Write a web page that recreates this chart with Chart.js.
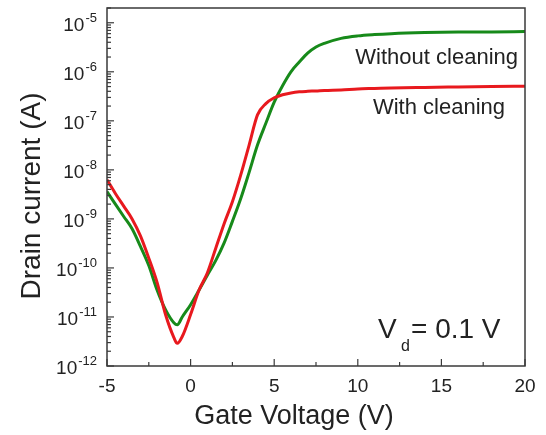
<!DOCTYPE html>
<html>
<head>
<meta charset="utf-8">
<script src="https://cdn.jsdelivr.net/npm/chart.js@4"></script>
<style>
  body { margin: 0; background: #fff; }
  canvas { display: block; }
</style>
</head>
<body>
<canvas id="grafico" width="546" height="435"></canvas>
<script>
// gate voltage (V)
const gateV = [-5, -4.5, -4, -3.5, -3, -2.5, -2, -1.5, -1, -0.8, -0.5, 0, 0.5, 1, 1.5, 2, 2.5, 3, 3.5, 4,
  4.5, 5, 5.5, 6, 6.5, 7, 7.5, 8, 9, 10, 11, 12, 14, 16, 18, 20];

// drain current (A)
const withCleaning = [6.3e-9, 3.3e-9, 1.82e-9, 1.0e-9, 4.5e-10, 1.58e-10, 5.0e-11, 1.12e-11, 3.8e-12, 2.9e-12,
  4.0e-12, 1.12e-11, 3.5e-11, 7.9e-11, 2.5e-10, 7.9e-10, 2.24e-9, 7.9e-9, 3.2e-8, 1.32e-7,
  2.24e-7, 2.95e-7, 3.4e-7, 3.7e-7, 3.9e-7, 4.0e-7, 4.07e-7, 4.17e-7, 4.27e-7, 4.47e-7,
  4.57e-7, 4.68e-7, 4.8e-7, 4.9e-7, 5.0e-7, 5.1e-7];

const withoutCleaning = [3.6e-9, 2.0e-9, 1.12e-9, 6.3e-10, 2.75e-10, 1.12e-10, 3.5e-11, 1.41e-11, 7.6e-12, 6.9e-12,
  1.0e-11, 1.78e-11, 3.5e-11, 7.1e-11, 1.41e-10, 3.2e-10, 8.9e-10, 2.6e-9, 8.9e-9, 3.2e-8,
  8.9e-8, 2.4e-7, 5.2e-7, 1.0e-6, 1.58e-6, 2.4e-6, 3.2e-6, 3.8e-6, 4.8e-6, 5.4e-6,
  5.75e-6, 6.0e-6, 6.3e-6, 6.45e-6, 6.5e-6, 6.6e-6];

const xTicks = [-5, 0, 5, 10, 15, 20];
const yExpoentes = [-12, -11, -10, -9, -8, -7, -6, -5];

const fonte = "'Liberation Sans', Arial, sans-serif";

function pontos(ys) {
  return gateV.map((v, i) => ({ x: v, y: ys[i] }));
}

const eixos = {
  id: "eixos",
  afterDraw(chart) {
    const ctx = chart.ctx;
    const area = chart.chartArea;
    const sx = chart.scales.x;
    const sy = chart.scales.y;

    ctx.save();
    ctx.strokeStyle = "#3a3a3a";
    ctx.lineWidth = 1.5;
    ctx.strokeRect(area.left, area.top, area.right - area.left, area.bottom - area.top);

    // x ticks (inside)
    ctx.lineWidth = 1.2;
    for (let v = -5; v <= 20; v += 2.5) {
      const px = sx.getPixelForValue(v);
      const len = v % 5 === 0 ? 7 : 4;
      ctx.beginPath();
      ctx.moveTo(px, area.bottom);
      ctx.lineTo(px, area.bottom - len);
      ctx.stroke();
    }

    // y ticks (inside, log minors)
    yExpoentes.forEach((e) => {
      for (let m = 1; m <= 9; m++) {
        const val = m * Math.pow(10, e);
        if (val > sy.max) break;
        const py = sy.getPixelForValue(val);
        const len = m === 1 ? 7 : 4;
        ctx.beginPath();
        ctx.moveTo(area.left, py);
        ctx.lineTo(area.left + len, py);
        ctx.stroke();
      }
    });

    ctx.fillStyle = "#222";

    // x tick labels
    ctx.font = "19px " + fonte;
    ctx.textAlign = "center";
    ctx.textBaseline = "alphabetic";
    xTicks.forEach((v) => {
      ctx.fillText(String(v), sx.getPixelForValue(v), 392);
    });

    // y tick labels 10^n
    yExpoentes.forEach((e) => {
      const py = sy.getPixelForValue(Math.pow(10, e));
      const exp = String(e);
      ctx.font = "13px " + fonte;
      const wExp = ctx.measureText(exp).width;
      ctx.textAlign = "left";
      ctx.fillText(exp, 97 - wExp, py - 1);
      ctx.font = "19px " + fonte;
      ctx.textAlign = "right";
      ctx.fillText("10", 97 - wExp - 1, py + 8);
    });

    // axis titles
    ctx.font = "27px " + fonte;
    ctx.textAlign = "center";
    ctx.fillText("Gate Voltage (V)", 294, 424);

    ctx.save();
    ctx.translate(40, 196);
    ctx.rotate(-Math.PI / 2);
    ctx.font = "28px " + fonte;
    ctx.fillText("Drain current (A)", 0, 0);
    ctx.restore();

    // labels on curves
    ctx.font = "22px " + fonte;
    ctx.textAlign = "right";
    ctx.fillText("Without cleaning", 518, 64);
    ctx.fillText("With cleaning", 505, 114);

    // V_d = 0.1 V
    ctx.textAlign = "left";
    ctx.font = "28px " + fonte;
    ctx.fillText("V", 378, 338);
    ctx.font = "16px " + fonte;
    ctx.fillText("d", 401, 351);
    ctx.font = "28px " + fonte;
    ctx.fillText("= 0.1 V", 411, 338);
    ctx.restore();
  },
};

new Chart(document.getElementById("grafico"), {
  type: "line",
  data: {
    datasets: [
      {
        label: "With cleaning",
        data: pontos(withCleaning),
        borderColor: "#e8191e",
        borderWidth: 3,
        pointRadius: 0,
        cubicInterpolationMode: "monotone",
      },
      {
        label: "Without cleaning",
        data: pontos(withoutCleaning),
        borderColor: "#178a1a",
        borderWidth: 3,
        pointRadius: 0,
        cubicInterpolationMode: "monotone",
      },
    ],
  },
  options: {
    responsive: false,
    animation: false,
    layout: { padding: { left: 0, top: 8, right: 21, bottom: 0 } },
    plugins: { legend: { display: false }, tooltip: { enabled: false } },
    scales: {
      x: {
        type: "linear",
        min: -5,
        max: 20,
        grid: { display: false },
        border: { display: false },
        ticks: { display: false },
        afterFit: (s) => { s.height = 69; },
      },
      y: {
        type: "logarithmic",
        min: 1e-12,
        max: 2e-5,
        grid: { display: false },
        border: { display: false },
        ticks: { display: false },
        afterFit: (s) => { s.width = 107; },
      },
    },
  },
  plugins: [eixos],
});
</script>
</body>
</html>
